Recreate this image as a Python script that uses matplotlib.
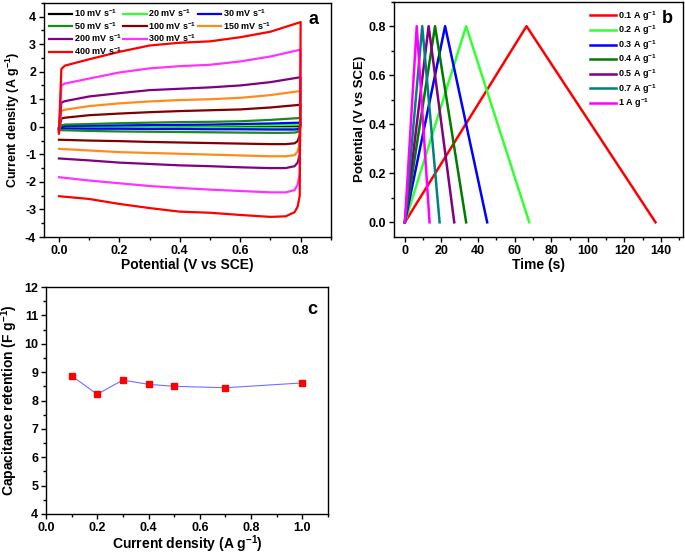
import matplotlib
matplotlib.use('Agg')
from matplotlib import pyplot as plt
from matplotlib.lines import Line2D
from matplotlib.ticker import MultipleLocator

plt.rcParams['font.family'] = ['Liberation Sans', 'DejaVu Sans']
plt.rcParams['font.weight'] = 'bold'
plt.rcParams['axes.labelweight'] = 'bold'
plt.rcParams['mathtext.default'] = 'regular'
plt.rcParams['axes.unicode_minus'] = False

# ---- panel a: CV curves ----
scan_labels = ['10', '20', '30', '50', '100', '150', '200', '300', '400']
scan_colors = ['black', '#33ff33', '#0000ff', '#1a8a1a', '#800000',
               '#ff8c1a', '#800080', '#ff33ff', '#ff0000']
E_up = [0.0, 0.008, 0.02, 0.1, 0.2, 0.3, 0.4, 0.5, 0.6, 0.7, 0.8]
E_down = [0.8, 0.797, 0.79, 0.78, 0.75, 0.7, 0.6, 0.5, 0.4, 0.3, 0.2, 0.1, 0.0]
i_up = [
    [-0.05, 0.0, 0.01, 0.01, 0.01, 0.02, 0.02, 0.02, 0.02, 0.02, 0.03],
    [-0.05, 0.0, 0.02, 0.02, 0.03, 0.03, 0.04, 0.04, 0.05, 0.06, 0.08],
    [-0.08, 0.0, 0.03, 0.04, 0.05, 0.06, 0.07, 0.08, 0.1, 0.12, 0.15],
    [-0.1, 0.05, 0.08, 0.1, 0.13, 0.15, 0.17, 0.18, 0.2, 0.25, 0.32],
    [-0.12, 0.3, 0.33, 0.42, 0.48, 0.53, 0.57, 0.6, 0.63, 0.7, 0.8],
    [-0.15, 0.58, 0.62, 0.75, 0.85, 0.92, 0.97, 1.0, 1.05, 1.15, 1.3],
    [-0.18, 0.88, 0.93, 1.1, 1.22, 1.33, 1.38, 1.43, 1.5, 1.62, 1.8],
    [-0.2, 1.5, 1.57, 1.75, 1.97, 2.12, 2.2, 2.25, 2.37, 2.55, 2.8],
    [-0.25, 2.1, 2.22, 2.45, 2.72, 2.95, 3.05, 3.1, 3.25, 3.45, 3.8],
]
i_down = [
    [0.03, -0.02, -0.03, -0.03, -0.03, -0.03, -0.03, -0.03, -0.03, -0.03, -0.03, -0.03, -0.03],
    [0.08, -0.03, -0.05, -0.05, -0.05, -0.05, -0.05, -0.05, -0.05, -0.05, -0.05, -0.05, -0.05],
    [0.15, -0.05, -0.09, -0.1, -0.1, -0.1, -0.09, -0.09, -0.08, -0.08, -0.07, -0.07, -0.06],
    [0.32, -0.1, -0.19, -0.21, -0.22, -0.22, -0.21, -0.2, -0.19, -0.18, -0.17, -0.15, -0.12],
    [0.8, -0.3, -0.52, -0.6, -0.63, -0.63, -0.61, -0.59, -0.57, -0.55, -0.52, -0.5, -0.47],
    [1.3, -0.6, -0.9, -1.03, -1.07, -1.07, -1.04, -1.01, -0.98, -0.95, -0.92, -0.86, -0.8],
    [1.8, -1.0, -1.3, -1.43, -1.5, -1.5, -1.47, -1.43, -1.4, -1.35, -1.3, -1.22, -1.15],
    [2.8, -1.7, -2.1, -2.3, -2.38, -2.38, -2.33, -2.28, -2.22, -2.15, -2.05, -1.95, -1.83],
    [3.8, -2.5, -2.9, -3.1, -3.25, -3.27, -3.2, -3.12, -3.08, -2.95, -2.8, -2.62, -2.52],
]

# ---- panel b: GCD ----
gcd_labels = ['0.1', '0.2', '0.3', '0.4', '0.5', '0.7', '1']
gcd_colors = ['#ff0000', '#33ff33', '#0000ff', '#007a00', '#800080', '#008080', '#ff00ff']
t_peak = [66.5, 33.5, 22.0, 16.5, 13.0, 9.5, 6.5]
t_end = [137.0, 68.0, 45.0, 33.5, 27.0, 19.0, 13.5]
V_max = 0.8

# ---- panel c: capacitance ----
cur_density = [0.1, 0.2, 0.3, 0.4, 0.5, 0.7, 1.0]
capacitance = [8.87, 8.22, 8.72, 8.57, 8.50, 8.45, 8.62]


def style_axes(ax):
    ax.tick_params(which='both', direction='out', top=False, right=False,
                   labelsize=9, width=1, pad=2)
    ax.tick_params(which='major', length=3.5)
    ax.tick_params(which='minor', length=2)
    for s in ax.spines.values():
        s.set_linewidth(1)
    for lab in ax.get_xticklabels() + ax.get_yticklabels():
        lab.set_fontweight('bold')


fig = plt.figure(figsize=(6.85, 5.57), dpi=100)
ax_a = fig.add_axes([0.064, 0.5745, 0.419, 0.4205])
ax_b = fig.add_axes([0.575, 0.5745, 0.422, 0.4225])
ax_c = fig.add_axes([0.067, 0.0772, 0.412, 0.4075])

# a
handles = []
for k in range(len(scan_labels)):
    ln, = ax_a.plot(E_up + E_down, i_up[k] + i_down[k], color=scan_colors[k], lw=1.6,
                    label=scan_labels[k] + ' mV s$^{-1}$')
    handles.append(ln)
blank = Line2D([], [], color='none')
order = [handles[0], handles[3], handles[6], handles[8],
         handles[1], handles[4], handles[7], blank,
         handles[2], handles[5], blank, blank]
labs = [h.get_label() if h is not blank else '' for h in order]
ax_a.legend(order, labs, ncol=3, loc='upper left', bbox_to_anchor=(-0.005, 1.008),
            frameon=False, prop={'size': 6.5, 'weight': 'bold'}, handlelength=2.6,
            handletextpad=0.2, columnspacing=0.1, labelspacing=0.1, borderpad=0.2)
ax_a.set_xlim(-0.05, 0.9)
ax_a.set_ylim(-4, 4.5)
ax_a.xaxis.set_major_locator(MultipleLocator(0.2))
ax_a.xaxis.set_minor_locator(MultipleLocator(0.1))
ax_a.yaxis.set_major_locator(MultipleLocator(1))
ax_a.yaxis.set_minor_locator(MultipleLocator(0.5))
ax_a.set_xlabel('Potential (V vs SCE)', fontsize=10, labelpad=1)
ax_a.set_ylabel('Current density (A g$^{-1}$)', fontsize=9, labelpad=2)
ax_a.text(0.94, 0.93, 'a', transform=ax_a.transAxes, fontsize=13, fontweight='bold',
          ha='center', va='center')
style_axes(ax_a)

# b
for k in range(len(gcd_labels)):
    ax_b.plot([0, t_peak[k], t_end[k]], [0, V_max, 0], color=gcd_colors[k], lw=1.8,
              label=gcd_labels[k] + ' A g$^{-1}$')
ax_b.legend(loc='upper left', bbox_to_anchor=(0.655, 1.0), frameon=False,
            prop={'size': 6.5, 'weight': 'bold'}, handlelength=2.8,
            handletextpad=0.2, labelspacing=0.1, borderpad=0.3)
ax_b.set_xlim(-6, 152)
ax_b.set_ylim(-0.06, 0.9)
ax_b.xaxis.set_major_locator(MultipleLocator(20))
ax_b.xaxis.set_minor_locator(MultipleLocator(10))
ax_b.yaxis.set_major_locator(MultipleLocator(0.2))
ax_b.yaxis.set_minor_locator(MultipleLocator(0.1))
ax_b.set_xlabel('Time (s)', fontsize=10, labelpad=1)
ax_b.set_ylabel('Potential (V vs SCE)', fontsize=9.5, labelpad=2)
ax_b.text(0.945, 0.93, 'b', transform=ax_b.transAxes, fontsize=13, fontweight='bold',
          ha='center', va='center')
style_axes(ax_b)

# c
ax_c.plot(cur_density, capacitance, color='#6f6fff', lw=0.8, marker='s',
          markersize=5, markerfacecolor='red', markeredgecolor='red')
ax_c.set_xlim(0, 1.1)
ax_c.set_ylim(4, 12)
ax_c.xaxis.set_major_locator(MultipleLocator(0.2))
ax_c.xaxis.set_minor_locator(MultipleLocator(0.1))
ax_c.yaxis.set_major_locator(MultipleLocator(1))
ax_c.yaxis.set_minor_locator(MultipleLocator(0.5))
ax_c.set_xlabel('Current density (A g$^{-1}$)', fontsize=10, labelpad=0)
ax_c.set_ylabel('Capacitance retention (F g$^{-1}$)', fontsize=10, labelpad=3)
ax_c.text(0.945, 0.9, 'c', transform=ax_c.transAxes, fontsize=13, fontweight='bold',
          ha='center', va='center')
style_axes(ax_c)

fig.savefig('out.png', dpi=100)
